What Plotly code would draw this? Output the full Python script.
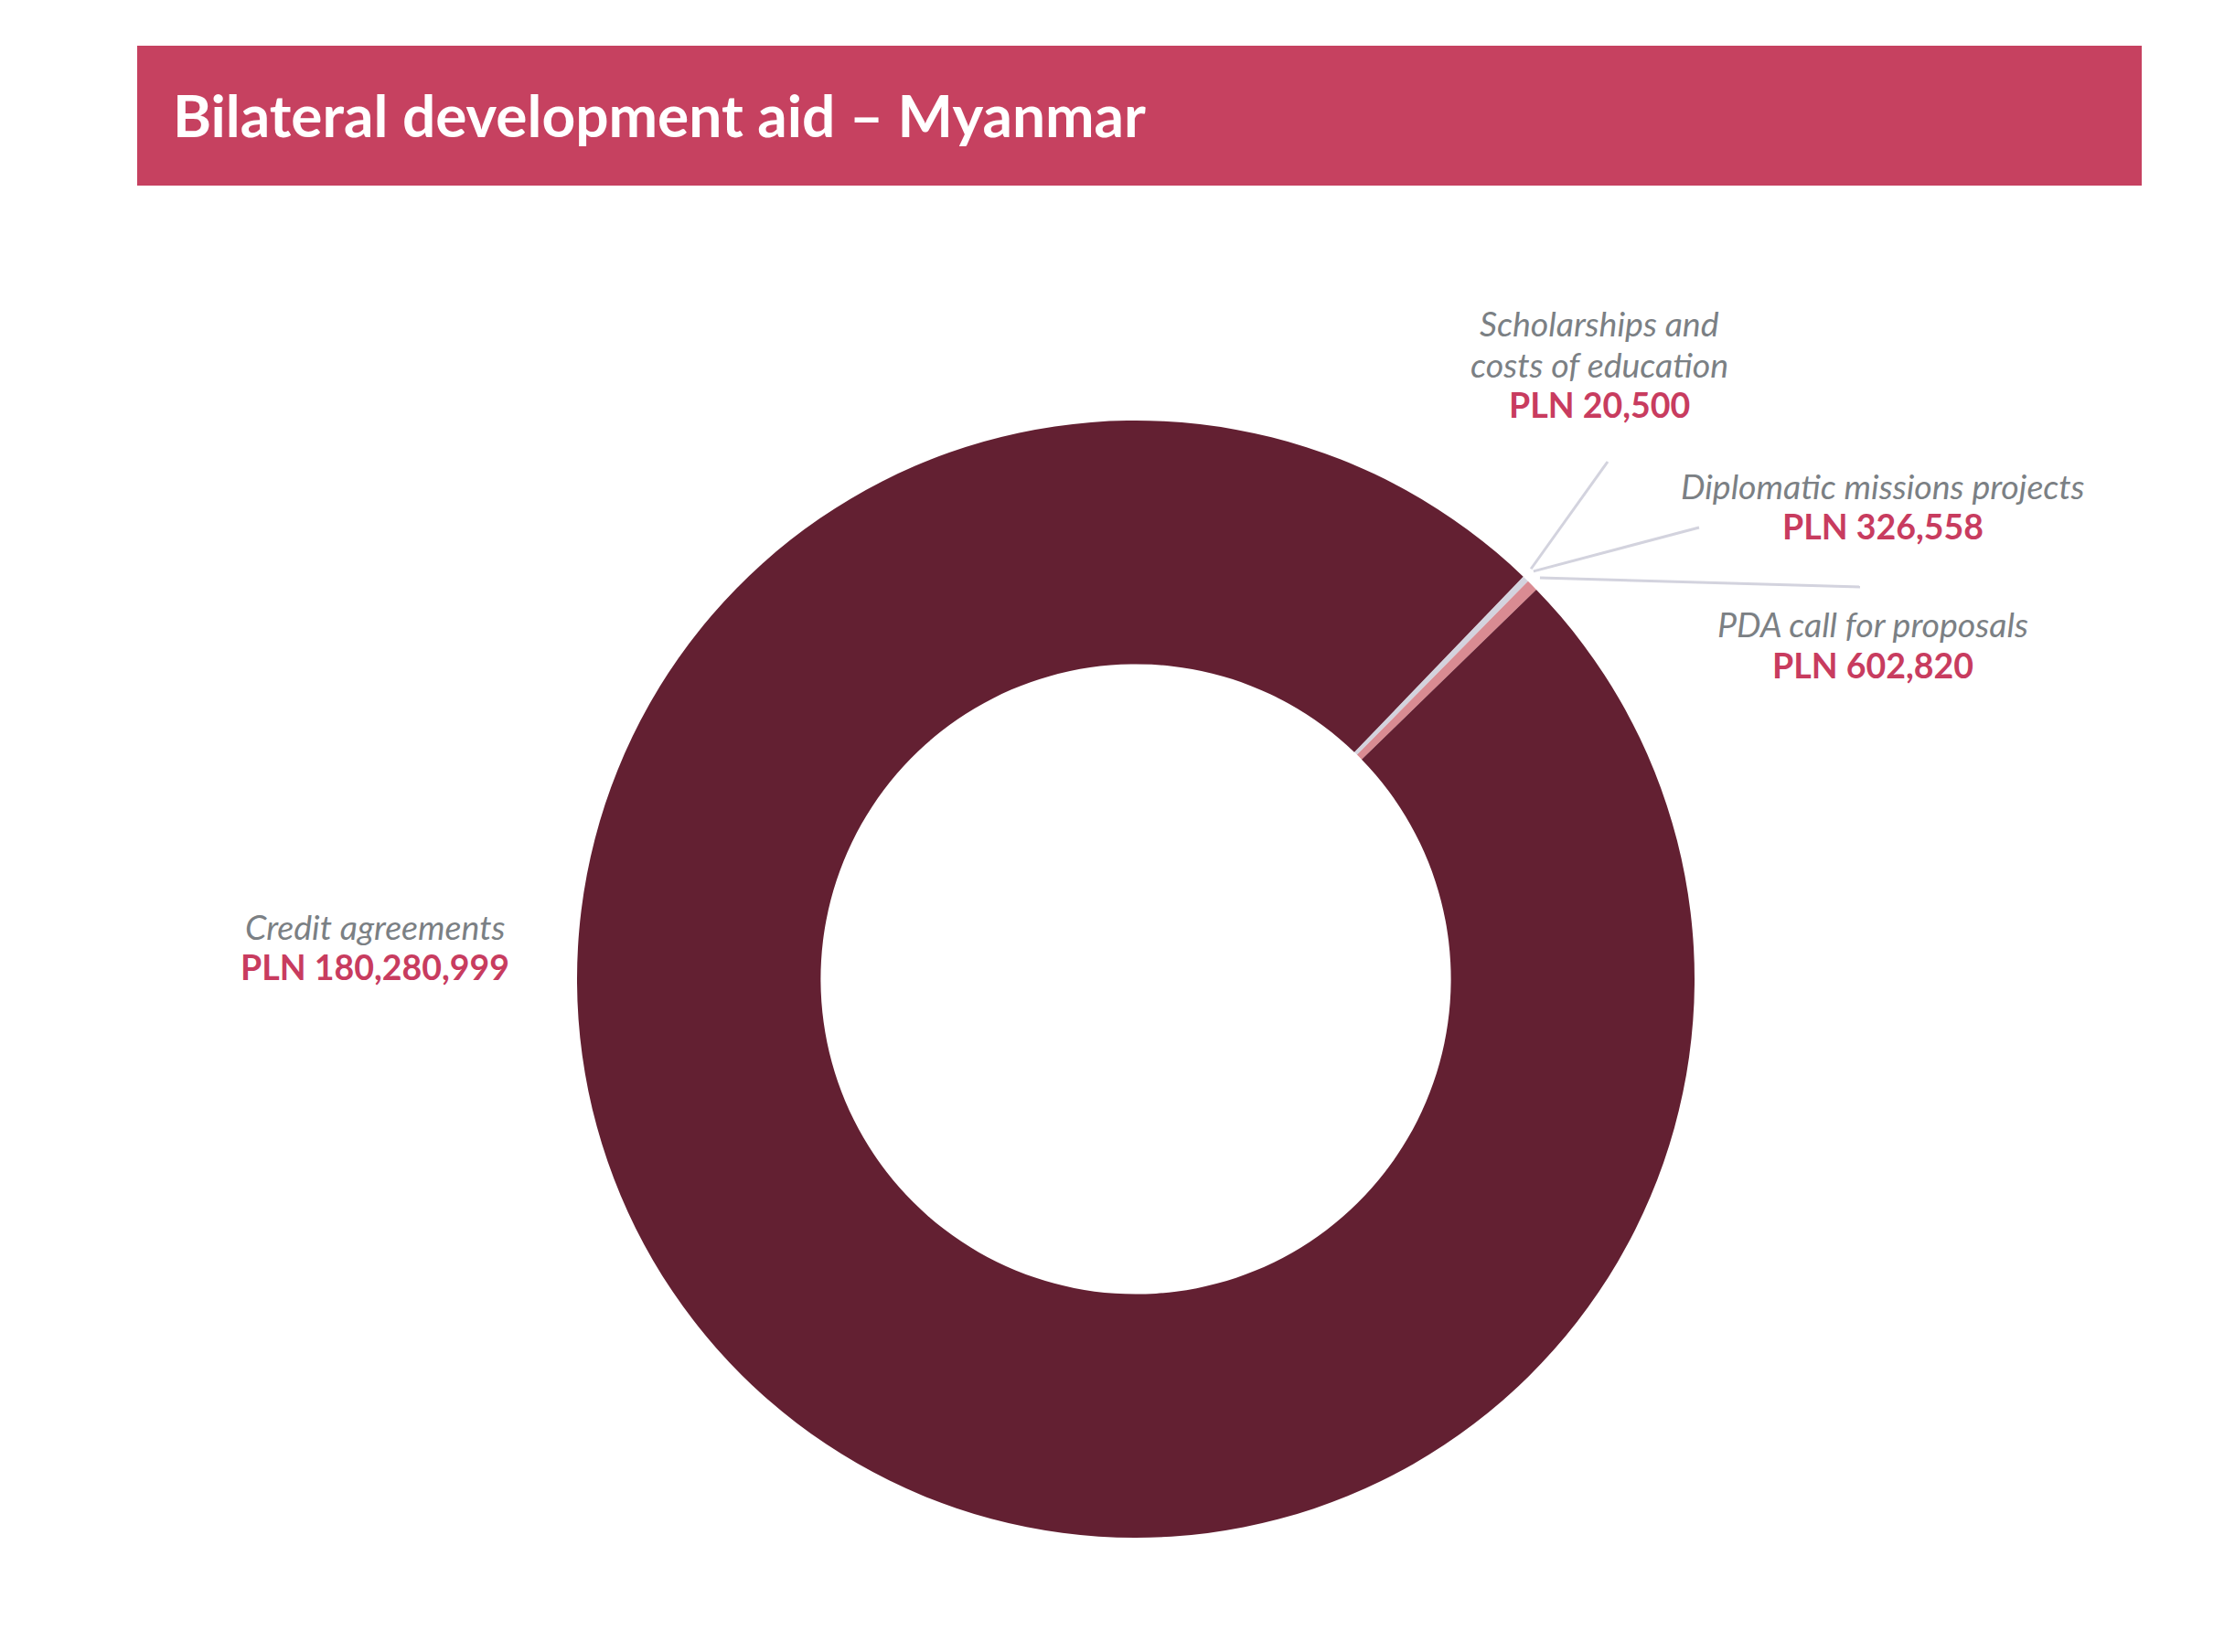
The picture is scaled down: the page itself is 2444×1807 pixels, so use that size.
import math
import plotly.graph_objects as go

# ---- data ----
categories = ["Scholarships and costs of education", "Diplomatic missions projects",
              "PDA call for proposals", "Credit agreements"]
values = [20500, 326558, 602820, 180280999]
name_lines = [["Scholarships and", "costs of education"], ["Diplomatic missions projects"],
              ["PDA call for proposals"], ["Credit agreements"]]
value_labels = ["PLN 20,500", "PLN 326,558", "PLN 602,820", "PLN 180,280,999"]
title_text = "Bilateral development aid – Myanmar"

# ---- style ----
W, H = 2444, 1807
OFF = 8  # page body margin compensation
slice_colors = ["#d3d3de", "#d3d3de", "#d98b92", "#632032"]
name_color = "#7b8084"
value_color = "#c83c5f"
header_color = "#c64160"
line_color = "#d3d3de"
FONT = "Lato"
LABEL_SIZE = 37.5
LINE_GAP = 44

cx, cy, R = 1242, 1071, 611
hole = 0.564
rotation = 43.9


def px(x):
    return (x - OFF) / W


def py(y):
    return 1 - (y - OFF) / H


fig = go.Figure()
fig.add_trace(go.Pie(
    labels=categories, values=values, sort=False, direction="clockwise",
    rotation=rotation, hole=hole, textinfo="none", showlegend=False,
    marker=dict(colors=slice_colors, line=dict(width=0)),
    domain=dict(x=[px(cx - R), px(cx + R)], y=[py(cy + R), py(cy - R)]),
))

shapes = [dict(type="rect", xref="paper", yref="paper",
               x0=px(150), x1=px(2342), y0=py(203), y1=py(50),
               fillcolor=header_color, line=dict(width=0), layer="below")]

# leader lines from slice mid-angles to label positions
total = sum(values)
label_anchor = {0: (1758, 505), 1: (1858, 577), 2: (2034, 642)}
cum = 0
for i, v in enumerate(values):
    mid = math.radians(rotation + 360 * (cum + v / 2) / total)
    cum += v
    if i in label_anchor:
        r1 = R + 12
        x0 = cx + r1 * math.sin(mid)
        y0 = cy - r1 * math.cos(mid)
        x1, y1 = label_anchor[i]
        shapes.append(dict(type="line", xref="paper", yref="paper",
                           x0=px(x0), y0=py(y0), x1=px(x1), y1=py(y1),
                           line=dict(color=line_color, width=3)))

# label centre x and y of first line
label_pos = [(1749, 354), (2059, 531), (2048, 683), (410, 1013)]
annotations = [dict(text=title_text, xref="paper", yref="paper", x=px(187), y=py(125),
                    xanchor="left", yanchor="middle", showarrow=False,
                    font=dict(family=FONT, size=64, color="white", weight="bold"))]
for (x, y), names, vl in zip(label_pos, name_lines, value_labels):
    lines = [(n, name_color, "normal", "italic") for n in names] + [(vl, value_color, "bold", "normal")]
    for k, (t, c, w, s) in enumerate(lines):
        annotations.append(dict(text=t, xref="paper", yref="paper",
                                x=px(x), y=py(y + k * LINE_GAP),
                                xanchor="center", yanchor="middle", showarrow=False,
                                font=dict(family=FONT, size=LABEL_SIZE, color=c,
                                          weight=w, style=s)))

fig.update_layout(width=W, height=H, margin=dict(l=0, r=0, t=0, b=0),
                  paper_bgcolor="white", plot_bgcolor="white",
                  shapes=shapes, annotations=annotations)
fig.write_html("out.html")
